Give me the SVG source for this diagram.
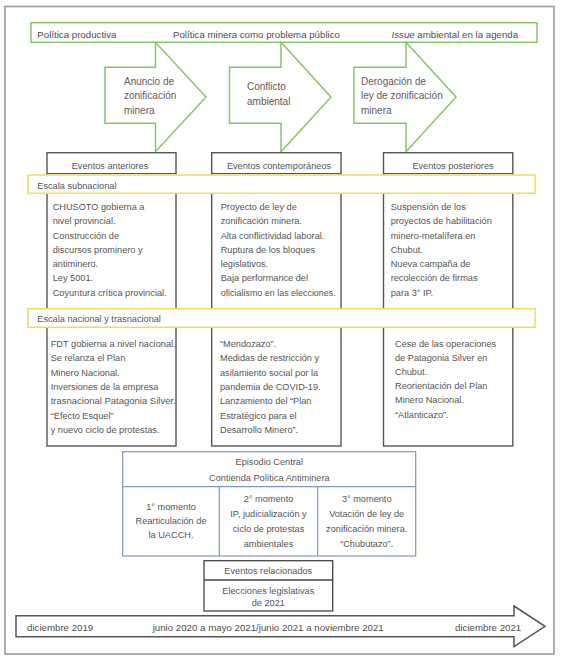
<svg xmlns="http://www.w3.org/2000/svg" width="561" height="660" viewBox="0 0 561 660">
<style>
text{font-family:"Liberation Sans",Arial,sans-serif;fill:#555;font-size:9.2px}
.top{font-size:9.7px;fill:#4d4d4d}
.arw{font-size:10px;fill:#665858}
.mid{text-anchor:middle}
.green{fill:#fff;stroke:#88c46c;stroke-width:1.5}
.yellow{fill:#fff;stroke:#eed868;stroke-width:1.5}
.col{fill:#fff;stroke:#555;stroke-width:1.4}
.blue{fill:#fff;stroke:#8394cc;stroke-width:1.2}
.blk{fill:#fff;stroke:#444;stroke-width:1.3}
</style>
<rect x="5" y="6.5" width="549" height="647.5" fill="#fff" stroke="#9a9a9a" stroke-width="1.6"/>

<g id="barra-superior">
<rect class="green" x="31" y="22.7" width="506" height="19.6"/>
<text class="top" x="37.3" y="37.5">Política productiva</text>
<text class="top" x="173" y="37.5">Política minera como problema público</text>
<text class="top" x="391.5" y="37.5"><tspan font-style="italic">Issue</tspan> ambiental en la agenda</text>
</g>

<g id="flecha-anuncio">
<polygon class="green" points="105,67.3 155.5,67.3 155.5,42.3 206,97 155.5,151.7 155.5,123.3 105,123.3"/>
<text class="arw" x="124" y="84.5">Anuncio de</text>
<text class="arw" x="124" y="99">zonificación</text>
<text class="arw" x="124" y="113.5">minera</text>
</g>
<g id="flecha-conflicto">
<polygon class="green" points="229.5,67.3 281,67.3 281,42.3 331,97 281,151.7 281,123.3 229.5,123.3"/>
<text class="arw" x="247" y="90">Conflicto</text>
<text class="arw" x="247" y="104.5">ambiental</text>
</g>
<g id="flecha-derogacion">
<polygon class="green" points="354,67.3 406,67.3 406,42.3 456,97 406,151.7 406,123.3 354,123.3"/>
<text class="arw" x="361" y="84.5">Derogación de</text>
<text class="arw" x="361" y="99">ley de zonificación</text>
<text class="arw" x="361" y="113.5">minera</text>
</g>

<g id="eventos-anteriores">
<rect class="col" x="47" y="152.7" width="129" height="293.3"/>
<line x1="47" y1="173.5" x2="176" y2="173.5" stroke="#555" stroke-width="1.2"/>
<text class="mid" x="110" y="168.5">Eventos anteriores</text>
</g>
<g id="eventos-contemporaneos">
<rect class="col" x="211.7" y="152.7" width="129.3" height="293.3"/>
<line x1="211.7" y1="173.5" x2="341" y2="173.5" stroke="#555" stroke-width="1.2"/>
<text class="mid" x="279" y="168.5">Eventos contemporáneos</text>
</g>
<g id="eventos-posteriores">
<rect class="col" x="383.5" y="152.7" width="129.3" height="293.3"/>
<line x1="383.5" y1="173.5" x2="512.8" y2="173.5" stroke="#555" stroke-width="1.2"/>
<text class="mid" x="453" y="168.5">Eventos posteriores</text>
</g>

<g id="escala-subnacional">
<rect class="yellow" x="28" y="175" width="507" height="18.3"/>
<text x="37.3" y="188.5">Escala subnacional</text>
</g>
<g id="escala-nacional">
<rect class="yellow" x="28" y="308.7" width="507" height="18.6"/>
<text x="37.3" y="322">Escala nacional y trasnacional</text>
</g>

<g id="subnacional-anteriores">
<text x="52.7" y="210">CHUSOTO gobierna a</text>
<text x="52.7" y="224.3">nivel provincial.</text>
<text x="52.7" y="238.5">Construcción de</text>
<text x="52.7" y="252.8">discursos prominero y</text>
<text x="52.7" y="267">antiminero.</text>
<text x="52.7" y="281.3">Ley 5001.</text>
<text x="52.7" y="295.5" textLength="114" lengthAdjust="spacingAndGlyphs">Coyuntura crítica provincial.</text>
</g>
<g id="subnacional-contemporaneos">
<text x="220.7" y="210">Proyecto de ley de</text>
<text x="220.7" y="224.3">zonificación minera.</text>
<text x="220.7" y="238.5">Alta conflictividad laboral.</text>
<text x="220.7" y="252.8">Ruptura de los bloques</text>
<text x="220.7" y="267">legislativos.</text>
<text x="220.7" y="281.3">Baja performance del</text>
<text x="220.7" y="295.5" textLength="115" lengthAdjust="spacingAndGlyphs">oficialismo en las elecciones.</text>
</g>
<g id="subnacional-posteriores">
<text x="390.7" y="210">Suspensión de los</text>
<text x="390.7" y="224.3">proyectos de habilitación</text>
<text x="390.7" y="238.5">minero-metalífera en</text>
<text x="390.7" y="252.8">Chubut.</text>
<text x="390.7" y="267">Nueva campaña de</text>
<text x="390.7" y="281.3">recolección de firmas</text>
<text x="390.7" y="295.5">para 3° IP.</text>
</g>

<g id="nacional-anteriores">
<text x="50.7" y="347" textLength="125" lengthAdjust="spacingAndGlyphs">FDT gobierna a nivel nacional.</text>
<text x="50.7" y="361.3">Se relanza el Plan</text>
<text x="50.7" y="375.7">Minero Nacional.</text>
<text x="50.7" y="390">Inversiones de la empresa</text>
<text x="50.7" y="404.3" textLength="125" lengthAdjust="spacingAndGlyphs">trasnacional Patagonia Silver.</text>
<text x="50.7" y="418.6">“Efecto Esquel”</text>
<text x="50.7" y="433">y nuevo ciclo de protestas.</text>
</g>
<g id="nacional-contemporaneos">
<text x="220" y="347">“Mendozazo”.</text>
<text x="220" y="361.3">Medidas de restricción y</text>
<text x="220" y="375.7">asilamiento social por la</text>
<text x="220" y="390">pandemia de COVID-19.</text>
<text x="220" y="404.3">Lanzamiento del “Plan</text>
<text x="220" y="418.6">Estratégico para el</text>
<text x="220" y="433">Desarrollo Minero”.</text>
</g>
<g id="nacional-posteriores">
<text x="395" y="346.5">Cese de las operaciones</text>
<text x="395" y="360.5">de Patagonia Silver en</text>
<text x="395" y="374.5">Chubut.</text>
<text x="395" y="388.8">Reorientación del Plan</text>
<text x="395" y="403">Minero Nacional.</text>
<text x="395" y="417.5">“Atlanticazo”.</text>
</g>

<g id="episodio-central">
<rect class="blue" x="122.7" y="451.7" width="293" height="104.3"/>
<line x1="122.7" y1="486.7" x2="415.7" y2="486.7" stroke="#8394cc" stroke-width="1.2"/>
<line x1="219.3" y1="486.7" x2="219.3" y2="556" stroke="#8394cc" stroke-width="1.2"/>
<line x1="317.7" y1="486.7" x2="317.7" y2="556" stroke="#8394cc" stroke-width="1.2"/>
<text class="mid" x="269.3" y="465">Episodio Central</text>
<text class="mid" x="269.3" y="481">Contienda Política Antiminera</text>
<text class="mid" x="171" y="509.5">1° momento</text>
<text class="mid" x="171" y="523.5">Rearticulación de</text>
<text class="mid" x="171" y="537.5">la UACCH.</text>
<text class="mid" x="268.5" y="502">2° momento</text>
<text class="mid" x="268.5" y="517">IP, judicialización y</text>
<text class="mid" x="268.5" y="532">ciclo de protestas</text>
<text class="mid" x="268.5" y="547">ambientales</text>
<text class="mid" x="366.7" y="502">3° momento</text>
<text class="mid" x="366.7" y="516.5">Votación de ley de</text>
<text class="mid" x="366.7" y="532">zonificación minera.</text>
<text class="mid" x="366.7" y="547">“Chubutazo”.</text>
</g>

<g id="eventos-relacionados">
<rect class="blk" x="204" y="560.7" width="128.7" height="50.3"/>
<line x1="204" y1="580" x2="332.7" y2="580" stroke="#444" stroke-width="1.3"/>
<text class="mid" x="268.3" y="574">Eventos relacionados</text>
<text class="mid" x="268.3" y="593.5">Elecciones legislativas</text>
<text class="mid" x="268.3" y="605.5">de 2021</text>
</g>

<g id="linea-de-tiempo">
<polygon points="16,615.7 514,615.7 514,606 545,626.3 514,646.7 514,636.7 16,636.7" fill="#fff" stroke="#555" stroke-width="1.5"/>
<text class="top" x="27" y="630.5">diciembre 2019</text>
<text class="top" x="152.7" y="630.5">junio 2020 a mayo 2021/junio 2021 a noviembre 2021</text>
<text class="top" x="455" y="630.5">diciembre 2021</text>
</g>
</svg>
